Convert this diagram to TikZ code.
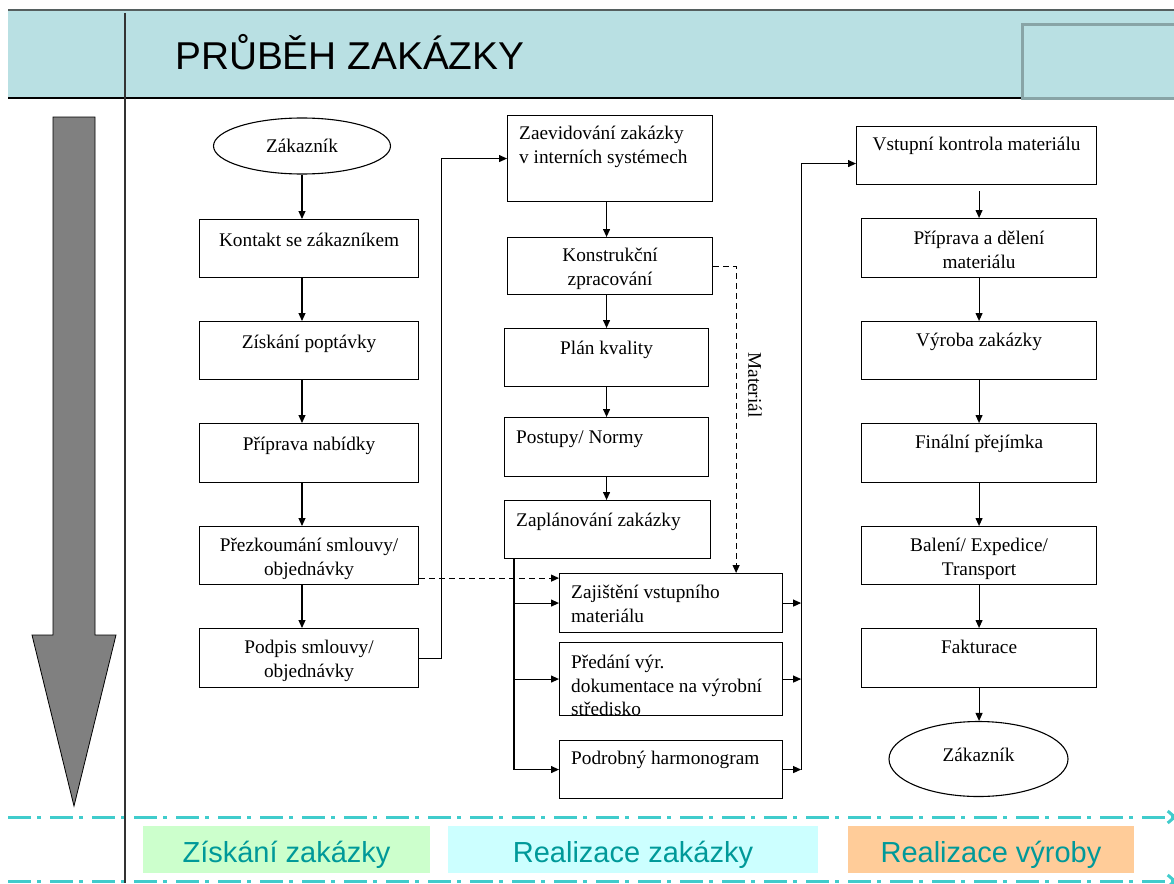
\documentclass[tikz,border=0pt]{standalone}
\usepackage{fontspec}
\setmainfont{Liberation Serif}
\newfontfamily\sansf{Liberation Sans}
\usetikzlibrary{arrows.meta,calc,shapes.geometric}
\definecolor{hdr}{RGB}{185,224,227}
\definecolor{hdrbox}{RGB}{136,164,166}
\definecolor{hdrtop}{RGB}{85,95,95}
\definecolor{cyanline}{RGB}{64,204,204}
\definecolor{tealtxt}{RGB}{0,153,153}
\definecolor{lgreen}{RGB}{204,255,204}
\definecolor{lcyan}{RGB}{204,255,255}
\definecolor{lorange}{RGB}{255,204,153}
\newcommand\serf{\fontsize{19.3}{23.5}\selectfont}
\newcommand\tc[1]{\begin{tabular}[t]{@{}c@{}}#1\end{tabular}}
\newcommand\tlf[1]{\begin{tabular}[t]{@{}l@{}}#1\end{tabular}}
\begin{document}
\begin{tikzpicture}[x=1pt,y=-1pt,
  fbox/.style={draw, line width=1.1pt, rectangle, inner sep=0pt, anchor=north west},
  lc/.style={anchor=base, inner sep=0pt, yshift=-25.5pt, font=\serf},
  ll/.style={anchor=base west, inner sep=0pt, yshift=-25.5pt, xshift=12pt, font=\serf},
  arr/.style={line width=1.1pt, -{Triangle[length=8pt,width=7pt]}},
  darr/.style={arr, dash pattern=on 6pt off 4pt},
  ell/.style={draw, ellipse, line width=1.1pt, inner sep=0pt, font=\serf},
  band/.style={inner sep=0pt, text height=36pt, text depth=11pt, anchor=base,
    font=\sansf\fontsize{29}{34}\selectfont, text=tealtxt},
  dd/.style={cyanline, line width=3pt, dash pattern=on 23pt off 6pt on 4pt off 9pt}]
\useasboundingbox (0,0) rectangle (1174,883);

% header
\fill[hdr] (8,10) rectangle (1174,98);
\draw[hdrtop, line width=2.5pt] (8,10) -- (1174,10);
\draw[black, line width=1.5pt] (8,98) -- (1022,98);
\draw[hdrbox, fill=hdr, line width=3pt] (1022,25) rectangle (1180,98);
\node[anchor=base west, inner sep=0pt, font=\sansf\fontsize{38.8}{44}\selectfont] (title) at (175,69) {PRŮBĚH ZAKÁZKY};

% big arrow
\draw[fill=gray, line width=0.8pt] (53,117) -- (95,117) -- (95,635) -- (116,635) -- (74,806) -- (32,635) -- (53,635) -- cycle;

% bottom phase bands
\draw[dd, -{Straight Barb[length=7pt,width=12pt]}] (8,817) -- (1177,817);
\draw[dd, -{Straight Barb[length=7pt,width=12pt]}] (8,881) -- (1177,881);
\node[band, fill=lgreen, minimum width=287pt] (ph1) at (286.5,862) {Získání zakázky};
\node[band, fill=lcyan, minimum width=370pt] (ph2) at (633,862) {Realizace zakázky};
\node[band, fill=lorange, minimum width=286pt] (ph3) at (991,862) {Realizace výroby};

% vertical divider
\draw[black!80, line width=1.5pt] (125,13) -- (125,883);

% column 1
\node[ell, minimum width=177pt, minimum height=56pt] (zk1) at (302,146) {Zákazník};
\node[fbox, minimum width=219pt, minimum height=58pt, label={[lc,yshift=-2pt]north:Kontakt se zákazníkem}] (bk) at (199,219) {};
\node[fbox, minimum width=219pt, minimum height=58pt, label={[lc,yshift=-2pt]north:Získání poptávky}] (bz) at (199,321) {};
\node[fbox, minimum width=219pt, minimum height=59pt, label={[lc,yshift=-2pt]north:Příprava nabídky}] (bp) at (199,423) {};
\node[fbox, minimum width=219pt, minimum height=58pt, label={[lc]north:\tc{Přezkoumání smlouvy/\\objednávky}}] (bpr) at (199,526) {};
\node[fbox, minimum width=219pt, minimum height=59pt, label={[lc]north:\tc{Podpis smlouvy/\\objednávky}}] (bpo) at (199,628) {};

\draw[arr] (zk1.south) -- (zk1.south |- bk.north);
\draw[arr] (bk.south -| zk1.south) -- (bz.north -| zk1.south);
\draw[arr] (bz.south -| zk1.south) -- (bp.north -| zk1.south);
\draw[arr] (bp.south -| zk1.south) -- (bpr.north -| zk1.south);
\draw[arr] (bpr.south -| zk1.south) -- (bpo.north -| zk1.south);

% column 2
\node[fbox, minimum width=205pt, minimum height=86pt, label={[ll,yshift=1pt]north west:\tlf{Zaevidování zakázky\\v interních systémech}}] (c1) at (507,115) {};
\node[fbox, minimum width=205pt, minimum height=57pt, label={[lc,yshift=1pt]north:\tc{Konstrukční\\zpracování}}] (c2) at (507,237) {};
\node[fbox, minimum width=204pt, minimum height=58pt, label={[lc,yshift=-1pt]north:Plán kvality}] (c3) at (504,328) {};
\node[fbox, minimum width=204pt, minimum height=59pt, label={[ll,yshift=-1pt]north west:Postupy/ Normy}] (c4) at (504,417) {};
\node[fbox, minimum width=206pt, minimum height=58pt, label={[ll,yshift=-1pt]north west:Zaplánování zakázky}] (c5) at (504,500) {};

\draw[arr] (c1.south -| c3.north) -- (c2.north -| c3.north);
\draw[arr] (c2.south -| c3.north) -- (c3.north);
\draw[arr] (c3.south) -- (c4.north);
\draw[arr] (c4.south) -- (c4.south |- c5.north);

% column 2b
\node[fbox, minimum width=223pt, minimum height=59pt, label={[ll]north west:\tlf{Zajištění vstupního\\materiálu}}] (d1) at (559,573) {};
\node[fbox, minimum width=223pt, minimum height=73pt, label={[ll,yshift=-1pt]north west:\tlf{Předání výr.\\dokumentace na výrobní\\středisko}}] (d2) at (559,642) {};
\node[fbox, minimum width=223pt, minimum height=58pt, label={[ll,yshift=1pt]north west:Podrobný harmonogram}] (d3) at (559,740) {};

% column 3
\node[fbox, minimum width=240pt, minimum height=58pt, label={[lc,yshift=1pt]north:Vstupní kontrola materiálu}] (e1) at (856,126) {};
\node[fbox, minimum width=235pt, minimum height=59pt, label={[lc,yshift=-1pt]north:\tc{Příprava a dělení\\materiálu}}] (e2) at (861,218) {};
\node[fbox, minimum width=235pt, minimum height=58pt, label={[lc]north:Výroba zakázky}] (e3) at (861,321) {};
\node[fbox, minimum width=235pt, minimum height=59pt, label={[lc]north:Finální přejímka}] (e4) at (861,423) {};
\node[fbox, minimum width=235pt, minimum height=58pt, label={[lc]north:\tc{Balení/ Expedice/\\Transport}}] (e5) at (861,526) {};
\node[fbox, minimum width=235pt, minimum height=59pt, label={[lc]north:Fakturace}] (e6) at (861,628) {};
\node[ell, minimum width=179pt, minimum height=75pt, text depth=8pt] (zk2) at (978.5,759) {Zákazník};

\coordinate (eS) at (e1.south -| e2.north);
\draw[arr] ($(eS)+(0,6)$) -- (e2.north);
\draw[arr] (e2.south) -- (e3.north);
\draw[arr] (e3.south) -- (e4.north);
\draw[arr] (e4.south) -- (e5.north);
\draw[arr] (e5.south) -- (e6.north);
\draw[arr] (e6.south) -- (e6.south |- zk2.north);

% connectors between columns
\draw[arr] (bpo.east) -- ++(22,0) |- (c1.west);
\coordinate (dA) at ($(bpr.south east)+(0,-7)$);
\draw[darr] (dA) -- (dA -| d1.west);

\coordinate (mx) at ($(c2.east)+(23,0)$);
\draw[darr] (c2.east) -- (mx) -- (mx |- d1.north);
\node[rotate=-90, inner sep=0pt, font=\serf] (mat) at (755,385) {Materiál};

\coordinate (lt) at ($(c5.south west)+(10,0)$);
\draw[arr] (lt) |- (d3.west);
\draw[arr] (lt |- d1.west) -- (d1.west);
\draw[arr] (lt |- d2.west) -- (d2.west);

\coordinate (rt) at ($(d1.east)+(18,0)$);
\coordinate (eA) at ($(e1.west)+(0,8)$);
\draw[arr] (d1.east) -- (rt);
\draw[arr] (d2.east) -- (d2.east -| rt);
\draw[arr] (d3.east) -- (d3.east -| rt);
\draw[arr] (d3.east -| rt) -- (rt |- eA) -- (eA);
\end{tikzpicture}
\end{document}
